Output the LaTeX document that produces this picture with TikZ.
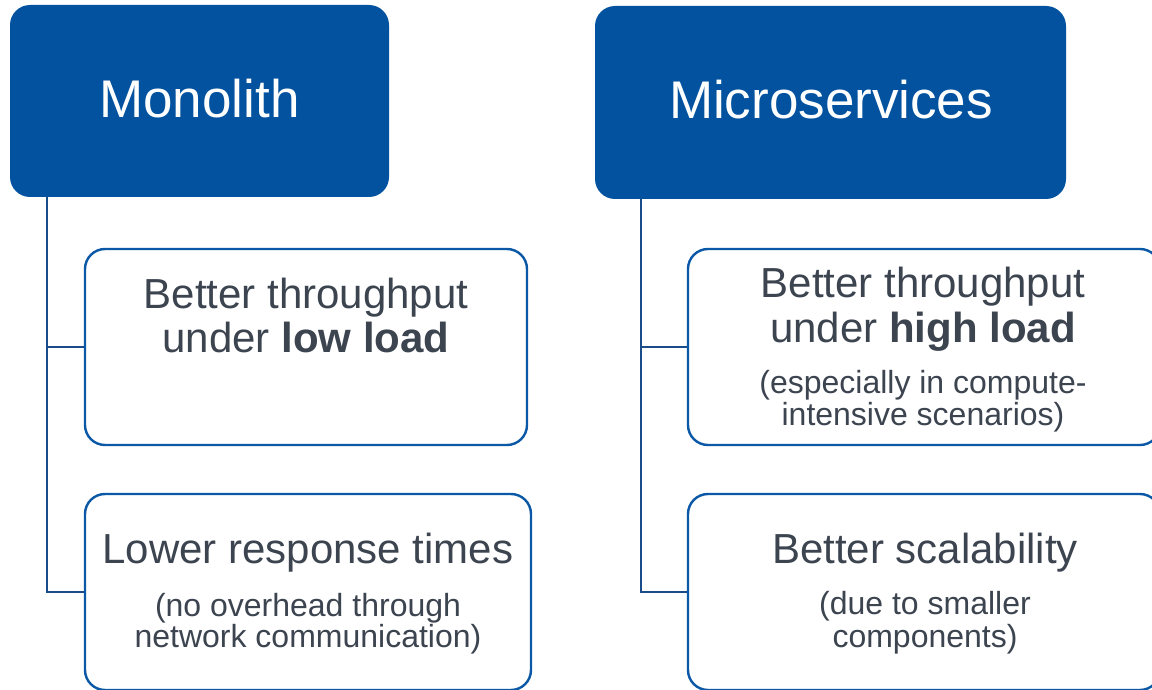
\documentclass[tikz,border=0pt]{standalone}
\usepackage{fontspec}
\setmainfont{Liberation Sans}
\definecolor{headblue}{HTML}{02529F}
\definecolor{edgeblue}{HTML}{0B58A6}
\definecolor{trunkblue}{HTML}{1A4C8A}
\definecolor{inkgray}{HTML}{3C4450}
\pgfdeclarelayer{background}
\pgfsetlayers{background,main}
\tikzset{
  headbox/.style={draw=none, fill=headblue, rounded corners=20pt, inner sep=0pt},
  itembox/.style={draw=edgeblue, line width=2.4pt, fill=white, rounded corners=20pt,
                  inner sep=0pt, minimum height=196pt},
  headtext/.style={anchor=base, text=white, font=\fontsize{53}{60}\selectfont, inner sep=0pt},
  bigtext/.style={anchor=base, text=inkgray, font=\fontsize{42}{48}\selectfont, inner sep=0pt},
  smalltext/.style={anchor=base, text=inkgray, font=\fontsize{32}{36}\selectfont, inner sep=0pt},
  trunk/.style={draw=trunkblue, line width=2.4pt, line join=miter}
}
\begin{document}
\begin{tikzpicture}[x=1pt, y=-1pt]
  \useasboundingbox (0,0) rectangle (1152,690);
  \clip (0,0) rectangle (1152,690);

  % header boxes
  \node[headbox, minimum width=379pt, minimum height=192pt] (mono) at (199.5,101) {};
  \node[headbox, minimum width=471pt, minimum height=193pt] (micro) at (830.5,102.5) {};

  % item boxes
  \node[itembox, minimum width=442pt] (boxA) at (306,347) {};
  \node[itembox, minimum width=446pt] (boxB) at (308,592) {};
  \node[itembox, minimum width=472pt] (boxC) at (924,347) {};
  \node[itembox, minimum width=472pt] (boxD) at (924,592) {};

  % tree connectors, behind the boxes
  \coordinate (mtop) at (47,197);
  \coordinate (mA) at (47,347);
  \coordinate (mB) at (47,592);
  \coordinate (stop) at (641,199);
  \coordinate (sC) at (641,347);
  \coordinate (sD) at (641,592);
  \begin{pgfonlayer}{background}
    \draw[trunk] (mtop) -- (mB) -- (boxB.west);
    \draw[trunk] (mA) -- (boxA.west);
    \draw[trunk] (stop) -- (sD) -- (boxD.west);
    \draw[trunk] (sC) -- (boxC.west);
  \end{pgfonlayer}

  % header texts
  \node[headtext] (monoT) at (199.5,118) {Monolith};
  \node[headtext] (microT) at (831,119) {Microservices};

  % monolith items
  \node[bigtext] (a1) at (306,308) {Better throughput};
  \node[bigtext] (a2) at (306,352) {under \textbf{low load}};

  \node[bigtext] (b1) at (308,563) {Lower response times};
  \node[smalltext] (b2) at (308,616) {(no overhead through};
  \node[smalltext] (b3) at (308,647) {network communication)};

  % microservice items
  \node[bigtext] (c1) at (923,297) {Better throughput};
  \node[bigtext] (c2) at (923,342) {under \textbf{high load}};
  \node[smalltext] (c3) at (923,393) {(especially in compute-};
  \node[smalltext] (c4) at (923,425) {intensive scenarios)};

  \node[bigtext] (d1) at (925,563) {Better scalability};
  \node[smalltext] (d2) at (925,614) {(due to smaller};
  \node[smalltext] (d3) at (925,647) {components)};
\end{tikzpicture}
\end{document}
